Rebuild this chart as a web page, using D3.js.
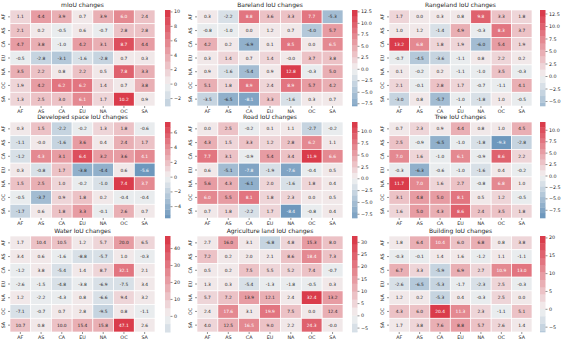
<!DOCTYPE html>
<html lang="en">
<head>
<meta charset="UTF-8">
<script src="https://d3js.org/d3.v7.min.js"></script>
<style>
  body { margin: 0; background: white; }
  svg { display: block; font-family: "DejaVu Sans", sans-serif; }
</style>
</head>
<body>
<script>
const W = 572, H = 343;

const regions = ["AF", "AS", "CA", "EU", "NA", "OC", "SA"];

const titles = [
  "mIoU changes", "Bareland IoU changes", "Rangeland IoU changes",
  "Developed space IoU changes", "Road IoU changes", "Tree IoU changes",
  "Water IoU changes", "Agriculture land IoU changes", "Building IoU changes"
];

// rows = regions (y), columns = regions (x)
const miou = [
  [1.1, 4.4, 3.9, 0.7, 3.9, 6.0, 2.4],
  [2.1, 0.2, -0.5, 0.6, -0.7, 2.8, 2.8],
  [4.7, 3.8, -1.0, 4.2, 3.1, 8.7, 4.4],
  [-0.5, -2.8, -3.1, -1.6, -2.8, 0.7, 0.3],
  [3.5, 2.2, 0.8, 2.2, 0.5, 7.8, 3.3],
  [1.9, 4.2, 6.2, 6.2, 1.4, 0.7, 3.8],
  [1.3, 2.5, 3.0, 6.1, 1.7, 10.2, 0.9]
];
const bareland = [
  [0.3, -2.2, 8.8, 3.6, 3.3, 7.7, -5.3],
  [-0.8, -1.0, 0.0, 1.2, 0.7, -4.0, 5.7],
  [4.2, 0.2, -6.9, 0.1, 8.5, 0.0, 6.5],
  [0.3, 1.4, 0.7, 1.4, -0.0, 3.7, 3.8],
  [0.9, -1.6, -5.4, 0.9, 12.8, -0.3, 5.0],
  [5.1, 1.8, 8.9, 2.4, 8.9, 5.7, 4.2],
  [-3.5, -6.5, -8.1, 3.3, -1.6, 0.3, 0.7]
];
const rangeland = [
  [1.7, 0.0, 0.3, 0.8, 9.8, 3.3, 1.8],
  [1.0, 1.2, -1.4, 4.9, -0.3, 8.3, 3.7],
  [13.2, 6.8, 1.8, 1.9, -6.0, 5.4, 1.9],
  [-0.7, -4.5, -3.6, -1.1, 0.8, 2.2, 0.2],
  [0.1, -0.2, 0.2, -1.1, -1.0, 3.5, -0.3],
  [2.1, -0.1, 2.8, 1.7, -0.7, -1.1, 4.1],
  [-3.0, 0.8, -5.7, -1.0, -1.8, 1.0, -0.5]
];
const developed = [
  [0.3, 1.5, -2.2, -0.2, 1.3, 1.8, -0.6],
  [-1.1, -0.0, -1.6, 3.6, 0.4, 2.4, 1.7],
  [-1.2, 4.3, 3.1, 6.4, 3.2, 3.6, 4.1],
  [0.3, -0.8, 1.7, -3.8, -4.4, 0.6, -5.6],
  [1.5, 2.5, 1.0, -0.2, -1.0, 7.4, 3.7],
  [-0.5, -3.7, 0.9, 1.8, 0.2, -0.4, -0.4],
  [-1.7, 0.6, 1.8, 3.3, -0.1, 2.6, 0.7]
];
const road = [
  [0.0, 2.5, -0.2, 0.1, 1.1, -2.7, -0.2],
  [4.3, 1.5, 3.3, 1.2, 2.8, 6.2, 1.1],
  [7.7, 3.1, -0.9, 5.4, 3.4, 11.9, 6.6],
  [0.6, -5.1, -7.8, -1.9, -7.6, -0.4, 0.5],
  [5.6, 4.3, -6.1, 2.0, -1.6, 1.8, 0.4],
  [6.0, 5.5, 8.1, 1.8, 2.3, 0.0, 0.5],
  [0.7, 1.8, -2.2, 1.7, -8.4, -0.8, 0.4]
];
const tree = [
  [0.7, 2.3, 0.9, 4.4, 0.8, 1.0, 4.5],
  [2.5, -0.9, -6.5, -1.0, -1.8, -9.3, -2.8],
  [7.0, 1.6, -1.0, 6.1, -0.9, 8.6, 2.2],
  [-0.3, -6.3, -0.6, -1.0, -1.6, 0.4, -0.2],
  [11.7, 7.0, 1.6, 2.7, -0.8, 6.8, 1.0],
  [3.1, 4.8, 5.0, 8.1, 0.5, 1.2, -0.5],
  [1.6, 5.0, 4.3, 8.6, 2.4, 3.5, 1.8]
];
const water = [
  [1.7, 10.4, 10.5, 1.2, 5.7, 20.0, 6.5],
  [3.4, 0.6, -1.6, -8.8, -5.7, 1.0, -0.3],
  [-1.2, 3.8, -5.4, 1.4, 8.7, 32.1, 2.1],
  [-2.6, -1.5, -4.8, -3.8, -6.9, -7.5, 3.4],
  [1.2, -2.2, -4.3, 0.8, -6.6, 9.4, 3.2],
  [-7.1, -0.7, 0.7, 2.8, -9.5, 0.8, -1.1],
  [10.7, 0.8, 10.0, 15.4, 15.8, 47.1, 2.6]
];
const agriculture = [
  [2.7, 16.0, 3.1, -6.8, 4.8, 15.3, 8.0],
  [7.2, 0.2, 2.0, 2.1, 8.6, 18.4, 7.3],
  [0.5, 0.2, 7.5, 5.5, 5.2, 7.4, -0.7],
  [1.3, 0.3, -5.4, -1.3, -1.8, -0.5, 0.3],
  [5.7, 7.2, 13.9, 12.1, 2.4, 32.4, 13.2],
  [2.4, 17.6, 3.1, 19.9, 7.5, 0.0, 12.4],
  [4.0, 12.5, 16.5, 9.0, 2.2, 24.3, -0.0]
];
const building = [
  [1.8, 6.4, 10.4, 6.0, 6.8, 0.8, 3.8],
  [-0.3, -0.1, 1.4, 1.6, -1.2, 1.1, -1.1],
  [6.7, 3.3, -5.9, 6.9, 2.7, 10.9, 13.0],
  [-2.6, -6.5, -5.3, -1.7, -2.3, 2.5, -0.3],
  [1.2, 0.2, -5.3, 0.4, -0.3, 2.5, 0.0],
  [4.3, 6.0, 20.4, 11.3, 2.3, -1.1, 5.1],
  [1.7, 3.8, 7.6, 8.8, 5.7, 2.6, 1.4]
];

const datasets = [miou, bareland, rangeland, developed, road, tree, water, agriculture, building];

const colorbarTicks = [
  [-2, 0, 2, 4, 6, 8, 10],
  [-7.5, -5, -2.5, 0, 2.5, 5, 7.5, 10, 12.5],
  [-5, -2.5, 0, 2.5, 5, 7.5, 10, 12.5],
  [-4, -2, 0, 2, 4, 6],
  [-7.5, -5, -2.5, 0, 2.5, 5, 7.5, 10],
  [-7.5, -5, -2.5, 0, 2.5, 5, 7.5, 10],
  [0, 10, 20, 30, 40],
  [-5, 0, 5, 10, 15, 20, 25, 30],
  [-5, 0, 5, 10, 15, 20]
];

// layout of the 3x3 grid
const colLeft = [10, 197, 389];
const colWidth = [145, 146, 143];
const cbarLeft = [165, 352, 540];
const rowTop = [10, 122, 236];
const hmHeight = 96;
const cbarWidth = 5.5;

// discrete diverging palette, blue -> light -> red
const nColors = 20;
const blend = d3.scaleLinear()
  .domain([0, 0.5, 1])
  .range(["rgb(75,128,175)", "rgb(242,242,242)", "rgb(218,60,75)"])
  .interpolate(d3.interpolateRgb);
const palette = d3.range(nColors).map(i => d3.rgb(blend(i / (nColors - 1))));

function colorFor(v, vrange) {
  const t = (v + vrange) / (2 * vrange);
  let i = Math.floor(t * nColors);
  i = Math.max(0, Math.min(nColors - 1, i));
  return palette[i];
}

function luminance(c) {
  const f = x => { x /= 255; return x <= 0.03928 ? x / 12.92 : Math.pow((x + 0.055) / 1.055, 2.4); };
  return 0.2126 * f(c.r) + 0.7152 * f(c.g) + 0.0722 * f(c.b);
}

const annot = v => (Object.is(v, -0) ? "-" : "") + v.toFixed(1);

const svg = d3.select("body").append("svg")
  .attr("width", W)
  .attr("height", H);

datasets.forEach((data, k) => {
  const r = Math.floor(k / 3), c = k % 3;
  const x0 = colLeft[c], y0 = rowTop[r], w = colWidth[c];

  const flat = data.flat();
  const vmin = d3.min(flat), vmax = d3.max(flat);
  const vrange = Math.max(vmax, -vmin);

  const x = d3.scaleBand().domain(regions).range([x0, x0 + w]);
  const y = d3.scaleBand().domain(regions).range([y0, y0 + hmHeight]);

  const g = svg.append("g");

  // title
  g.append("text")
    .attr("x", x0 + w / 2)
    .attr("y", y0 - 3)
    .attr("text-anchor", "middle")
    .style("font-size", "6px")
    .style("fill", "#262626")
    .text(titles[k]);

  // cells
  const cells = [];
  data.forEach((row, i) => row.forEach((v, j) => cells.push({ row: regions[i], col: regions[j], v })));

  g.selectAll("rect.cell")
    .data(cells)
    .enter()
    .append("rect")
    .attr("class", "cell")
    .attr("x", d => x(d.col))
    .attr("y", d => y(d.row))
    .attr("width", x.bandwidth())
    .attr("height", y.bandwidth())
    .attr("fill", d => colorFor(d.v, vrange))
    .attr("stroke", "white")
    .attr("stroke-width", 0.7);

  g.selectAll("text.annot")
    .data(cells)
    .enter()
    .append("text")
    .attr("class", "annot")
    .attr("x", d => x(d.col) + x.bandwidth() / 2)
    .attr("y", d => y(d.row) + y.bandwidth() / 2)
    .attr("text-anchor", "middle")
    .attr("dominant-baseline", "central")
    .style("font-size", "4.4px")
    .style("fill", d => luminance(colorFor(d.v, vrange)) > 0.408 ? "#262626" : "white")
    .text(d => annot(d.v));

  // x axis
  const xAxis = g.append("g")
    .attr("transform", "translate(0," + (y0 + hmHeight) + ")")
    .call(d3.axisBottom(x).tickSize(2).tickPadding(1.5));
  xAxis.select(".domain").remove();
  xAxis.selectAll("line").attr("stroke", "#262626").attr("stroke-width", 0.5);
  xAxis.selectAll("text").style("font-size", "4.8px").style("fill", "#262626").style("font-family", "DejaVu Sans");

  // y axis, labels rotated
  const yAxis = g.append("g")
    .attr("transform", "translate(" + x0 + ",0)")
    .call(d3.axisLeft(y).tickSize(2).tickPadding(1.5));
  yAxis.select(".domain").remove();
  yAxis.selectAll("line").attr("stroke", "#262626").attr("stroke-width", 0.5);
  yAxis.selectAll("text")
    .style("font-size", "4.8px")
    .style("fill", "#262626")
    .style("font-family", "DejaVu Sans")
    .attr("text-anchor", "middle")
    .attr("dy", "0")
    .attr("x", 0)
    .attr("transform", "translate(-5.5,0) rotate(-90)");

  // colorbar
  const cy = d3.scaleLinear().domain([vmin, vmax]).range([y0 + hmHeight, y0]);
  const bins = d3.range(nColors).map(i => ({
    lo: Math.max(vmin, -vrange + (2 * vrange) * i / nColors),
    hi: Math.min(vmax, -vrange + (2 * vrange) * (i + 1) / nColors),
    col: palette[i]
  })).filter(b => b.hi > b.lo);

  g.selectAll("rect.bin")
    .data(bins)
    .enter()
    .append("rect")
    .attr("class", "bin")
    .attr("x", cbarLeft[c])
    .attr("y", d => cy(d.hi))
    .attr("width", cbarWidth)
    .attr("height", d => cy(d.lo) - cy(d.hi) + 0.3)
    .attr("fill", d => d.col);

  const ticks = colorbarTicks[k];
  const fmt = ticks.some(t => !Number.isInteger(t)) ? d3.format(".1f") : d3.format("d");
  const cAxis = g.append("g")
    .attr("transform", "translate(" + (cbarLeft[c] + cbarWidth) + ",0)")
    .call(d3.axisRight(cy).tickValues(ticks).tickFormat(fmt).tickSize(2).tickPadding(1.5));
  cAxis.select(".domain").remove();
  cAxis.selectAll("line").attr("stroke", "#262626").attr("stroke-width", 0.5);
  cAxis.selectAll("text").style("font-size", "4.8px").style("fill", "#262626").style("font-family", "DejaVu Sans");
});
</script>
</body>
</html>
